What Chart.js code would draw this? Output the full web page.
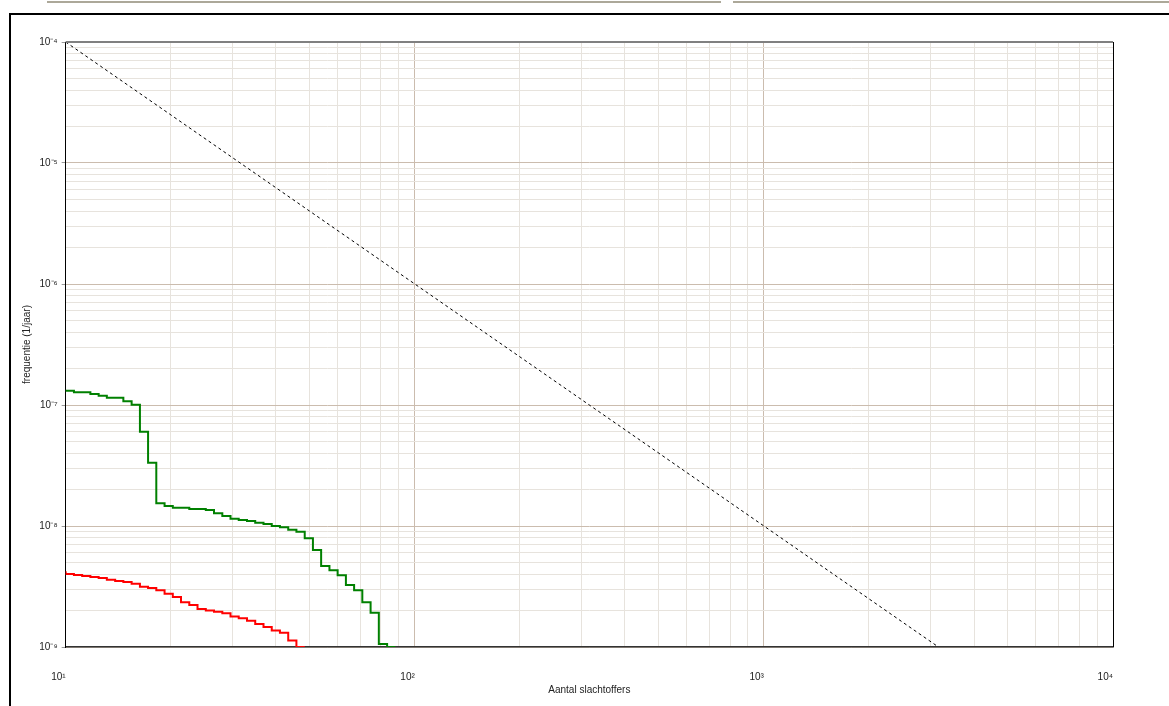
<!DOCTYPE html>
<html><head><meta charset="utf-8">
<script src="https://cdn.jsdelivr.net/npm/chart.js@4.4.0/dist/chart.umd.min.js"></script>
<style>
html,body{margin:0;padding:0;background:#fff;}
#wrap{position:relative;width:1169px;height:706px;overflow:hidden;background:#fff;}
canvas{position:absolute;left:0;top:0;}
.gl{position:absolute;top:1px;height:2px;background:#aca899;}
.frameTop{position:absolute;left:9px;top:13px;width:1160px;height:2px;background:#000;}
.frameLeft{position:absolute;left:9px;top:13px;width:2px;height:693px;background:#000;}
</style></head>
<body><div id="wrap"><canvas id="c" width="1169" height="706"></canvas>
<div class="gl" style="left:47px;width:674px"></div>
<div class="gl" style="left:733px;width:436px"></div>
<div class="frameTop"></div><div class="frameLeft"></div></div>
<script>
// ---- data ----
const greenN = [10, 10.56, 11.77, 12.43, 13.12, 14.63, 15.45, 16.32, 17.22, 18.18, 19.20, 20.27, 22.60, 25.20, 26.60, 28.10, 29.66, 31.31, 33.07, 34.91, 36.87, 38.93, 41.09, 43.40, 45.81, 48.39, 51.08, 53.92, 56.96, 60.12, 63.49, 67.02, 70.75, 74.72, 78.89, 83.32, 87.95];
const greenF = [1.338e-7, 1.313e-7, 1.274e-7, 1.233e-7, 1.194e-7, 1.149e-7, 1.073e-7, 1.006e-7, 6.02e-8, 3.33e-8, 1.54e-8, 1.463e-8, 1.416e-8, 1.381e-8, 1.355e-8, 1.274e-8, 1.209e-8, 1.149e-8, 1.121e-8, 1.100e-8, 1.065e-8, 1.039e-8, 1.0e-8, 9.75e-9, 9.32e-9, 8.97e-9, 7.91e-9, 6.33e-9, 4.67e-9, 4.30e-9, 3.91e-9, 3.25e-9, 2.94e-9, 2.34e-9, 1.92e-9, 1.06e-9, 1.0e-9];
const redN = [10, 10.56, 11.15, 11.77, 12.43, 13.12, 13.86, 14.63, 15.45, 16.32, 17.22, 18.18, 19.20, 20.27, 21.40, 22.60, 23.86, 25.20, 26.60, 28.10, 29.66, 31.31, 33.07, 34.91, 36.87, 38.93, 41.09, 43.40, 45.81, 48.39];
const redF = [4.22e-9, 4.01e-9, 3.94e-9, 3.86e-9, 3.79e-9, 3.72e-9, 3.60e-9, 3.51e-9, 3.45e-9, 3.33e-9, 3.15e-9, 3.07e-9, 2.94e-9, 2.76e-9, 2.59e-9, 2.34e-9, 2.22e-9, 2.06e-9, 2.00e-9, 1.96e-9, 1.90e-9, 1.79e-9, 1.73e-9, 1.65e-9, 1.55e-9, 1.46e-9, 1.37e-9, 1.31e-9, 1.13e-9, 1.0e-9];
const refN = [10, 3162.28];
const refF = [1e-4, 1e-9];
const xTickValues = [10, 100, 1000, 10000];
const xTickLabels = ['10\u00B9', '10\u00B2', '10\u00B3', '10\u2074'];
const yTickValues = [1e-9, 1e-8, 1e-7, 1e-6, 1e-5, 1e-4];
const yTickLabels = ['10\u207B\u2079', '10\u207B\u2078', '10\u207B\u2077', '10\u207B\u2076', '10\u207B\u2075', '10\u207B\u2074'];
const xTitle = 'Aantal slachtoffers';
const yTitle = 'frequentie (1/jaar)';

// ---- helpers ----
const toXY = (xs, ys) => xs.map((x, i) => ({x: x, y: ys[i]}));
function isMajor(v) { const l = Math.log10(v); return Math.abs(l - Math.round(l)) < 1e-9; }
function gridValues(decades) {
  const out = [];
  for (let d = 0; d < decades.length - 1; d++) {
    for (let m = 1; m < 10; m++) out.push(decades[d] * m);
  }
  out.push(decades[decades.length - 1]);
  return out;
}
function labelFor(values, labels, v) {
  for (let i = 0; i < values.length; i++) {
    if (Math.abs(Math.log10(values[i]) - Math.log10(v)) < 1e-9) return labels[i];
  }
  return '';
}
const MAJOR = '#cbbcae', MINOR = '#e7e3dd';
const FONT = {family: 'Liberation Sans, Arial, sans-serif', size: 10};

const frame = {
  id: 'frame',
  afterDraw(chart) {
    const {ctx, chartArea: a} = chart;
    ctx.save();
    ctx.strokeStyle = '#808080'; ctx.lineWidth = 2;
    ctx.beginPath(); ctx.moveTo(a.left, a.top); ctx.lineTo(a.right, a.top); ctx.stroke();
    ctx.strokeStyle = '#000'; ctx.lineWidth = 1;
    ctx.beginPath(); ctx.moveTo(Math.round(a.right) + 0.5, a.top); ctx.lineTo(Math.round(a.right) + 0.5, a.bottom); ctx.stroke();
    ctx.restore();
  }
};

new Chart(document.getElementById('c'), {
  type: 'scatter',
  data: {
    datasets: [
      {data: toXY(refN, refF), showLine: true, borderColor: '#000', borderWidth: 1, borderDash: [3, 3], pointRadius: 0},
      {data: toXY(greenN, greenF), showLine: true, stepped: 'after', borderColor: '#008000', borderWidth: 2, pointRadius: 0},
      {data: toXY(redN, redF), showLine: true, stepped: 'after', borderColor: '#ff0000', borderWidth: 2, pointRadius: 0}
    ]
  },
  options: {
    responsive: false,
    animation: false,
    devicePixelRatio: 1,
    layout: {padding: {left: 12, right: 56, top: 42, bottom: 0}},
    plugins: {legend: {display: false}, tooltip: {enabled: false}},
    scales: {
      x: {
        type: 'logarithmic', min: 10, max: 10000,
        afterBuildTicks: s => { s.ticks = gridValues(xTickValues).map(v => ({value: v})); },
        afterFit: s => { s.height = 59; },
        grid: {color: c => isMajor(c.tick.value) ? MAJOR : MINOR, drawTicks: false},
        border: {color: '#333', width: 1.5},
        ticks: {autoSkip: false, maxRotation: 0, align: 'end', padding: 24, color: '#222', font: FONT,
                callback: v => labelFor(xTickValues, xTickLabels, v)},
        title: {display: true, text: xTitle, color: '#222', font: FONT, padding: {top: 0, bottom: 10}}
      },
      y: {
        type: 'logarithmic', min: 1e-9, max: 1e-4,
        afterBuildTicks: s => { s.ticks = gridValues(yTickValues).map(v => ({value: v})); },
        afterFit: s => { s.width = 53.67; },
        grid: {color: c => isMajor(c.tick.value) ? MAJOR : MINOR, tickLength: 4,
               tickColor: c => isMajor(c.tick.value) ? '#999' : 'rgba(0,0,0,0)'},
        border: {color: '#000', width: 1},
        ticks: {autoSkip: false, padding: 4, color: '#222', font: FONT,
                callback: v => labelFor(yTickValues, yTickLabels, v)},
        title: {display: true, text: yTitle, color: '#222', font: FONT, padding: {top: 9, bottom: 0}}
      }
    }
  },
  plugins: [frame]
});
</script>
</body></html>
